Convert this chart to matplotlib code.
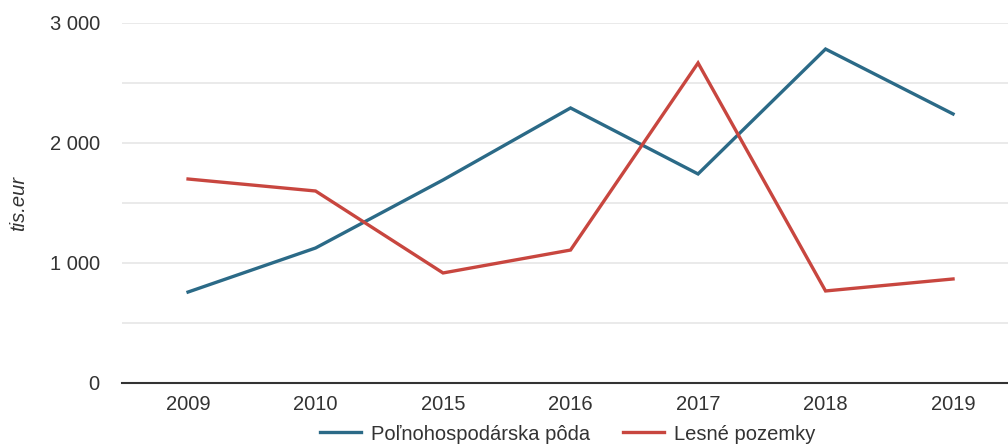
import matplotlib
matplotlib.use("Agg")
import matplotlib.pyplot as plt

plt.rcParams['font.family'] = ['Liberation Sans', 'DejaVu Sans']

categories = ["2009", "2010", "2015", "2016", "2017", "2018", "2019"]
polnohosp = [758, 1125, 1692, 2292, 1742, 2783, 2242]
lesne = [1700, 1600, 917, 1108, 2667, 767, 867]
series_names = ["Poľnohospodárska pôda", "Lesné pozemky"]
y_ticks = [0, 1000, 2000, 3000]
y_tick_labels = ["0", "1 000", "2 000", "3 000"]
grid_vals = [500, 1000, 1500, 2000, 2500, 3000]

FS = 14.5
fig = plt.figure(figsize=(10.08, 4.45), dpi=100)
ax = fig.add_axes([122/1008, 62/445, 886/1008, 360/445])

x = list(range(len(categories)))
for g in grid_vals:
    ax.axhline(g, color='#e6e6e6', lw=1.2, zorder=0)
l1, = ax.plot(x, polnohosp, color='#2b6a87', lw=2.4, solid_joinstyle='miter', zorder=3)
l2, = ax.plot(x, lesne, color='#c8463f', lw=2.4, solid_joinstyle='miter', zorder=3)

ax.set_xlim(-0.518, 6.431)
ax.set_ylim(0, 3000)
ax.set_xticks(x)
ax.set_xticklabels(categories)
ax.set_yticks(y_ticks)
ax.set_yticklabels(y_tick_labels)
ax.tick_params(axis='both', length=0, labelsize=FS, colors='#333333')
ax.tick_params(axis='x', pad=9)
ax.tick_params(axis='y', pad=16)
for s in ['top', 'right', 'left']:
    ax.spines[s].set_visible(False)
ax.spines['bottom'].set_color('#333333')
ax.spines['bottom'].set_linewidth(1.5)
ax.set_ylabel("tis.eur", fontsize=FS, style='italic', color='#333333')
ax.yaxis.set_label_coords(-0.106, 0.5)

fig.legend([l1, l2], series_names, loc='center', bbox_to_anchor=(0.5635, 11/445),
           ncol=2, frameon=False, fontsize=FS, handlelength=2.03, columnspacing=1.64,
           handletextpad=0.5, labelcolor='#333333')

fig.savefig("out.png", dpi=100)
